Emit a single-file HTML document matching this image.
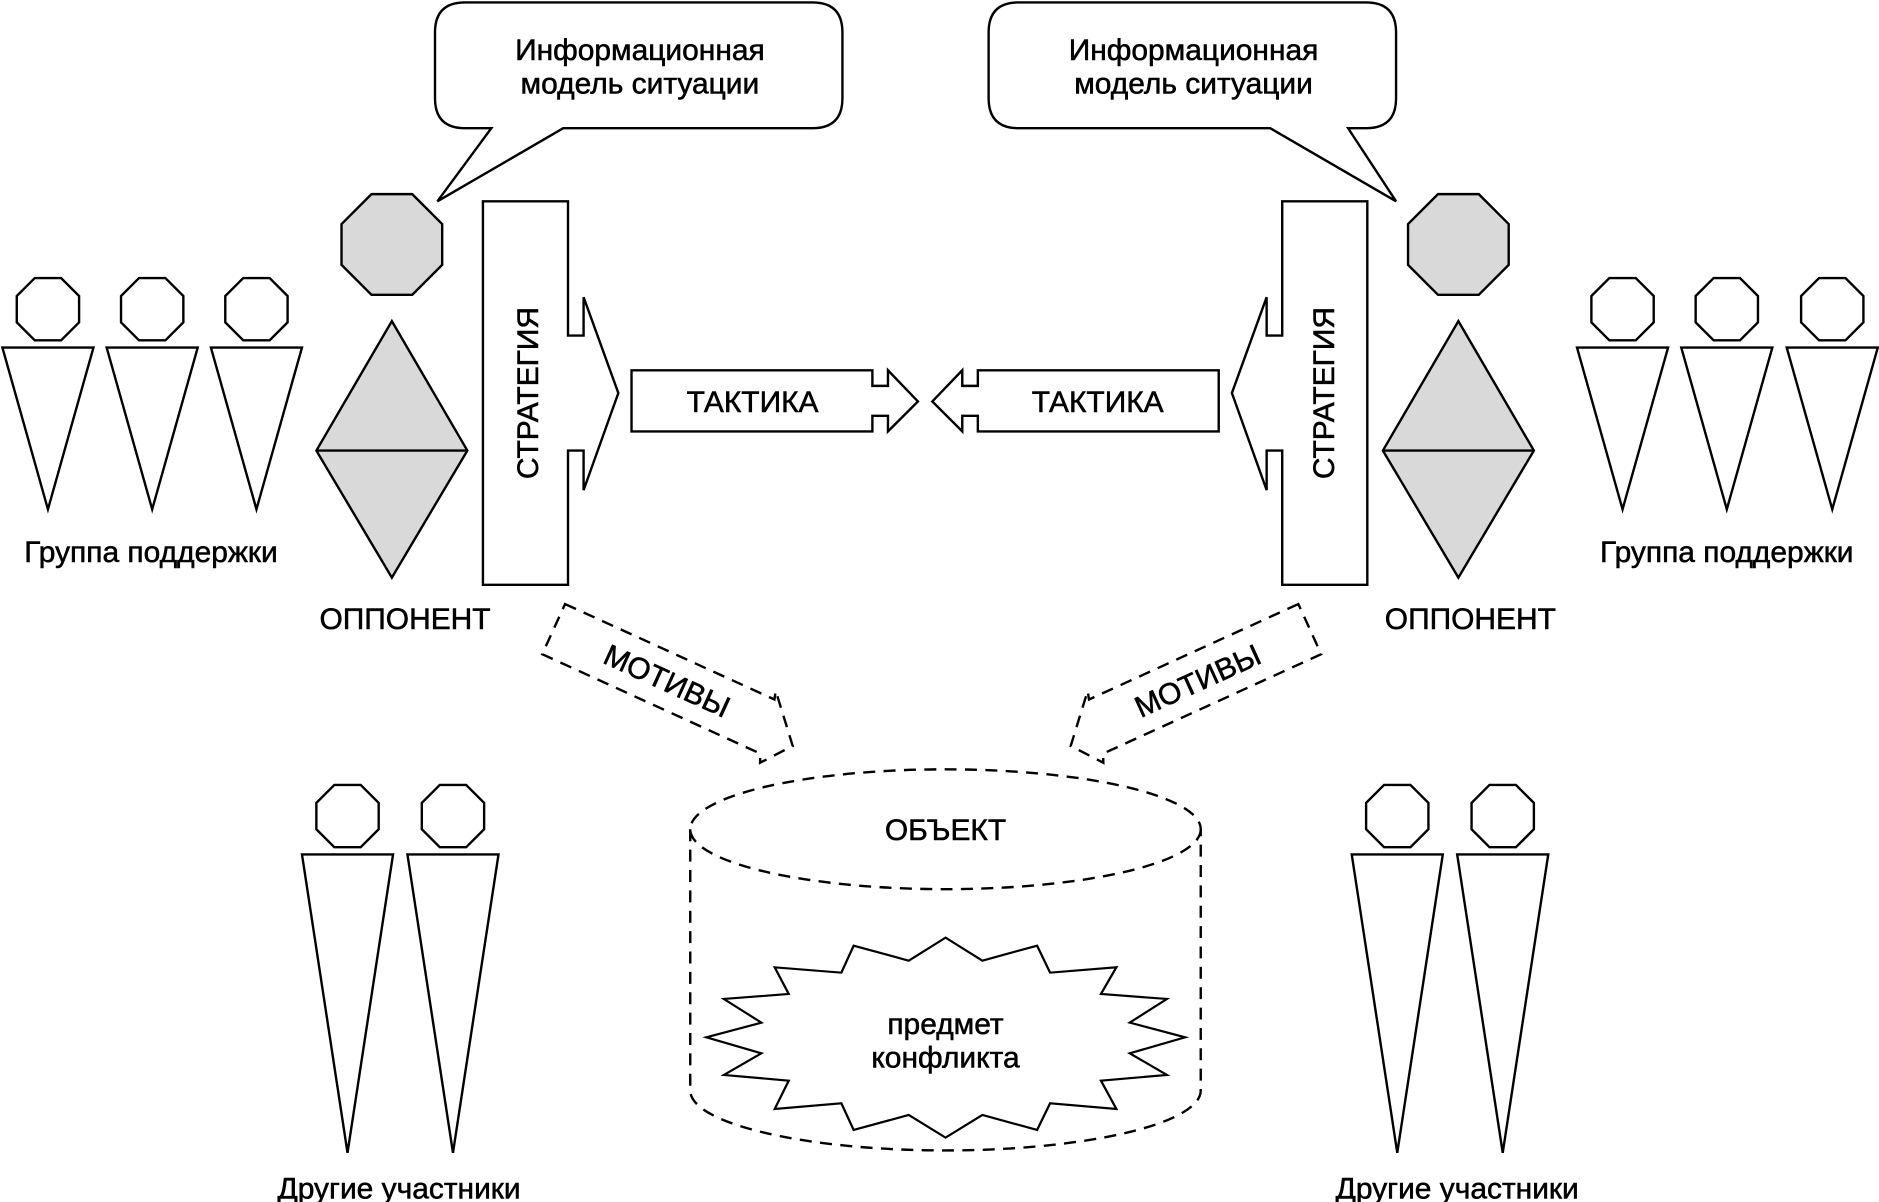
<!DOCTYPE html>
<html><head><meta charset="utf-8"><style>
html,body{margin:0;padding:0;background:#fff;}
svg{display:block;}
text{font-family:"Liberation Sans","Noto Sans CJK SC",sans-serif;fill:#000;stroke:#000;stroke-width:0.45;}
</style></head><body>
<svg width="1879" height="1202" viewBox="0 0 1879 1202" xmlns="http://www.w3.org/2000/svg">
<rect width="1879" height="1202" fill="#fff"/>
<g transform="scale(1.19834)" stroke="#000" stroke-width="2" fill="#fff" stroke-linejoin="miter">
  <defs>
    <polygon id="oct" points="-17,-42 17,-42 42,-17 42,17 17,42 -17,42 -42,17 -42,-17"/>
    <polygon id="soct" points="-11,-26 11,-26 26,-11 26,11 11,26 -11,26 -26,11 -26,-11"/>
    <polygon id="body1" points="-38,0 38,0 0,135"/>
    <polygon id="body2" points="-38,0 38,0 0,249"/>
  </defs>

  <path d="M388,2 H678 Q703,2 703,27 V82 Q703,107 678,107 H470 L365,168 L410,107 H388 Q363,107 363,82 V27 Q363,2 388,2 Z"/>
  <path d="M850,2 H1140 Q1165,2 1165,27 V82 Q1165,107 1140,107 H1125 L1165,168 L1060,107 H850 Q825,107 825,82 V27 Q825,2 850,2 Z"/>

  <use href="#oct" x="327" y="204" fill="#d9d9d9"/>
  <polygon points="327,268 390,376 327,482 264,376" fill="#d9d9d9"/>
  <line x1="264" y1="376" x2="390" y2="376"/>
  <use href="#oct" x="1217" y="204" fill="#d9d9d9"/>
  <polygon points="1217,268 1280,376 1217,482 1154,376" fill="#d9d9d9"/>
  <line x1="1154" y1="376" x2="1280" y2="376"/>

  <polygon points="403,168 474,168 474,280 487,280 487,248 516,328 487,409 487,376 474,376 474,488 403,488"/>
  <polygon points="527,309 728,309 728,322 741,322 741,309 766,335 741,360 741,347 728,347 728,360 527,360"/>
  <g transform="translate(1544,0) scale(-1,1)">
    <polygon points="403,168 474,168 474,280 487,280 487,248 516,328 487,409 487,376 474,376 474,488 403,488"/>
    <polygon points="527,309 728,309 728,322 741,322 741,309 766,335 741,360 741,347 728,347 728,360 527,360"/>
  </g>

  <g>
    <use href="#soct" x="40" y="258"/><use href="#body1" x="40" y="290"/>
    <use href="#soct" x="127" y="258"/><use href="#body1" x="127" y="290"/>
    <use href="#soct" x="214" y="258"/><use href="#body1" x="214" y="290"/>
    <use href="#soct" x="1354" y="258"/><use href="#body1" x="1354" y="290"/>
    <use href="#soct" x="1441" y="258"/><use href="#body1" x="1441" y="290"/>
    <use href="#soct" x="1529" y="258"/><use href="#body1" x="1529" y="290"/>
  </g>

  <g>
    <use href="#soct" x="290" y="681"/><use href="#body2" x="290" y="713"/>
    <use href="#soct" x="378" y="681"/><use href="#body2" x="378" y="713"/>
    <use href="#soct" x="1166" y="681"/><use href="#body2" x="1166" y="713"/>
    <use href="#soct" x="1254" y="681"/><use href="#body2" x="1254" y="713"/>
  </g>

  <g stroke-dasharray="10,7" fill="none">
    <g transform="translate(462,525) rotate(24.5)">
      <polygon points="0,-23 192,-23 190,-30 222,6 203,30 200,23 0,23"/>
    </g>
    <g transform="translate(1093,525) rotate(-24.5) scale(-1,1)">
      <polygon points="0,-23 192,-23 190,-30 222,6 203,30 200,23 0,23"/>
    </g>
    <ellipse cx="789" cy="692" rx="213" ry="50"/>
    <path d="M576,692 V910 A213,50 0 0 0 1002,910 V692"/>
  </g>
</g>

<g transform="translate(680,750) scale(0.3508,0.3333)">
  <polygon fill="#fff" stroke="#000" stroke-width="6.5" points="757,563 862,632 1018,587 1055,668 1244,652 1200,732 1388,747 1282,818 1440,862 1282,910 1388,975 1200,992 1244,1077 1055,1060 1018,1140 862,1095 757,1163 652,1095 495,1140 460,1060 270,1077 310,992 125,975 232,910 75,862 232,818 125,747 310,732 270,652 460,668 495,587 652,632"/>
</g>

<g transform="scale(1.19834)" font-size="25" text-anchor="middle">
  <text x="534" y="50">Информационная</text>
  <text x="534" y="78">модель ситуации</text>
  <text x="996" y="50">Информационная</text>
  <text x="996" y="78">модель ситуации</text>
  <text x="628" y="344">ТАКТИКА</text>
  <text x="916" y="344">ТАКТИКА</text>
  <text transform="translate(449,328) rotate(-90)">СТРАТЕГИЯ</text>
  <text transform="translate(1113,328) rotate(-90)">СТРАТЕГИЯ</text>
  <text x="126" y="469">Группа поддержки</text>
  <text x="1441" y="469">Группа поддержки</text>
  <text x="338" y="525">ОППОНЕНТ</text>
  <text x="1227" y="525">ОППОНЕНТ</text>
  <text transform="translate(553,576) rotate(24.5)">МОТИВЫ</text>
  <text transform="translate(1003,576) rotate(-24.5)">МОТИВЫ</text>
  <text x="789" y="701">ОБЪЕКТ</text>
  <text x="789" y="863">предмет</text>
  <text x="789" y="891">конфликта</text>
  <text x="333" y="1000">Другие участники</text>
  <text x="1216" y="1000">Другие участники</text>
</g>
</svg>
</body></html>
